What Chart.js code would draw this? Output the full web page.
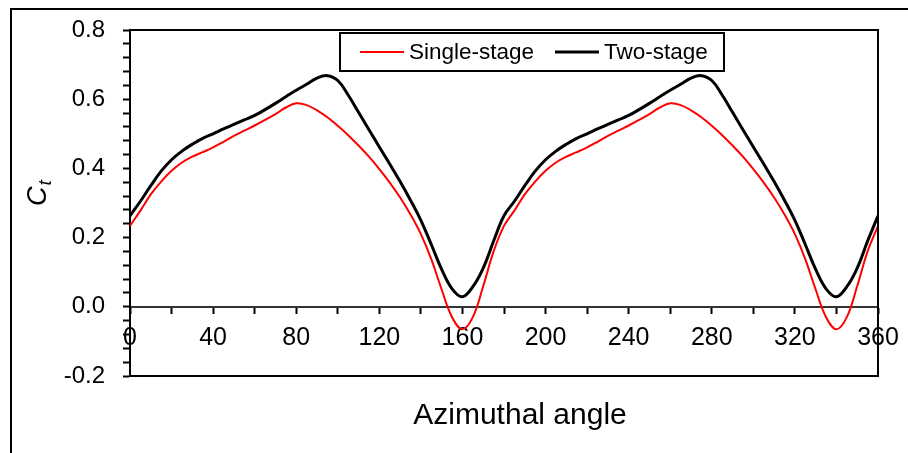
<!DOCTYPE html>
<html>
<head>
<meta charset="utf-8">
<script src="https://cdn.jsdelivr.net/npm/chart.js@4.4.1/dist/chart.umd.min.js"></script>
<style>
  html, body { margin: 0; padding: 0; background: #fff; overflow: hidden; }
  #wrap { width: 908px; height: 453px; position: relative; }
</style>
</head>
<body>
<div id="wrap"><canvas id="c" width="908" height="453"></canvas></div>
<script>
// Azimuthal angle (deg)
const angles = [
  0, 5, 10, 15, 20, 25, 30, 35, 40, 45, 50, 55, 60, 65, 70, 75, 80, 85, 90,
  95, 100, 105, 110, 115, 120, 125, 130, 135, 140, 145, 150, 155, 160, 165, 170, 175, 180,
  185, 190, 195, 200, 205, 210, 215, 220, 225, 230, 235, 240, 245, 250, 255, 260, 265, 270,
  275, 280, 285, 290, 295, 300, 305, 310, 315, 320, 325, 330, 335, 340, 345, 350, 355, 360
];

// Torque coefficient, single-stage rotor
const singleStage = [
  0.234, 0.278, 0.325, 0.362, 0.393, 0.417, 0.434, 0.447, 0.461, 0.477, 0.494, 0.509, 0.524, 0.540, 0.557, 0.576, 0.588, 0.583, 0.568,
  0.548, 0.523, 0.496, 0.466, 0.434, 0.398, 0.359, 0.316, 0.267, 0.210, 0.138, 0.050, -0.030, -0.065, -0.030, 0.060, 0.160, 0.234,
  0.278, 0.325, 0.362, 0.393, 0.417, 0.434, 0.447, 0.461, 0.477, 0.494, 0.509, 0.524, 0.540, 0.557, 0.576, 0.588, 0.583, 0.568,
  0.548, 0.523, 0.496, 0.466, 0.434, 0.398, 0.359, 0.316, 0.267, 0.210, 0.138, 0.050, -0.030, -0.065, -0.030, 0.060, 0.160, 0.234
];

// Torque coefficient, two-stage rotor
const twoStage = [
  0.263, 0.305, 0.350, 0.392, 0.425, 0.450, 0.470, 0.487, 0.500, 0.514, 0.527, 0.540, 0.553, 0.570, 0.588, 0.607, 0.626, 0.643, 0.661,
  0.668, 0.654, 0.612, 0.562, 0.512, 0.462, 0.413, 0.362, 0.308, 0.250, 0.180, 0.108, 0.052, 0.029, 0.058, 0.112, 0.190, 0.263,
  0.305, 0.350, 0.392, 0.425, 0.450, 0.470, 0.487, 0.500, 0.514, 0.527, 0.540, 0.553, 0.570, 0.588, 0.607, 0.626, 0.643, 0.661,
  0.668, 0.654, 0.612, 0.562, 0.512, 0.462, 0.413, 0.362, 0.308, 0.250, 0.180, 0.108, 0.052, 0.029, 0.058, 0.112, 0.190, 0.263
];

// Labelled ticks
const xTickLabels = [0, 40, 80, 120, 160, 200, 240, 280, 320, 360];
const yTickLabels = [-0.2, 0.0, 0.2, 0.4, 0.6, 0.8];

const FONT = '"Liberation Sans", Arial, sans-serif';

const near = (list, v) => list.some(t => Math.abs(t - v) < 1e-6);

// Plot frame, outer border, axis titles and legend box
const decorPlugin = {
  id: 'decor',
  afterDatasetsDraw(chart) {
    const { ctx, chartArea: a } = chart;
    ctx.save();
    ctx.strokeStyle = '#000';
    ctx.lineWidth = 2;
    ctx.beginPath();
    ctx.moveTo(a.left, a.top);
    ctx.lineTo(a.right, a.top);
    ctx.lineTo(a.right, a.bottom);
    ctx.lineTo(a.left, a.bottom);
    ctx.stroke();

    // outer figure border
    ctx.beginPath();
    ctx.moveTo(11, 460);
    ctx.lineTo(11, 9);
    ctx.lineTo(910, 9);
    ctx.stroke();

    // x axis title
    ctx.fillStyle = '#000';
    ctx.font = '30px ' + FONT;
    ctx.textAlign = 'center';
    ctx.textBaseline = 'alphabetic';
    ctx.fillText('Azimuthal angle', 520, 424);

    // y axis title: C with subscript t
    ctx.save();
    ctx.translate(46, 206);
    ctx.rotate(-Math.PI / 2);
    ctx.textAlign = 'left';
    ctx.font = 'italic 27px ' + FONT;
    ctx.fillText('C', 0, 0);
    const cw = ctx.measureText('C').width;
    ctx.font = 'italic 19px ' + FONT;
    ctx.fillText('t', cw + 1, 5);
    ctx.restore();

    // legend
    const lx = 340, ly = 33, lw = 384, lh = 38;
    ctx.fillStyle = '#fff';
    ctx.fillRect(lx, ly, lw, lh);
    ctx.strokeRect(lx, ly, lw, lh);
    const items = [
      { x: 360, ds: chart.data.datasets[0] },
      { x: 555, ds: chart.data.datasets[1] }
    ];
    const my = ly + lh / 2;
    ctx.font = '22.5px ' + FONT;
    ctx.textBaseline = 'middle';
    ctx.textAlign = 'left';
    items.forEach(it => {
      ctx.strokeStyle = it.ds.borderColor;
      ctx.lineWidth = it.ds.borderWidth;
      ctx.beginPath();
      ctx.moveTo(it.x, my);
      ctx.lineTo(it.x + 44, my);
      ctx.stroke();
      ctx.fillStyle = '#000';
      ctx.fillText(it.ds.label, it.x + 49, my + 1);
    });
    ctx.restore();
  }
};

new Chart(document.getElementById('c'), {
  type: 'line',
  data: {
    labels: angles,
    datasets: [
      {
        label: 'Single-stage',
        data: singleStage,
        borderColor: '#ff0000',
        borderWidth: 2,
        pointRadius: 0,
        fill: false,
        tension: 0.4
      },
      {
        label: 'Two-stage',
        data: twoStage,
        borderColor: '#000000',
        borderWidth: 3,
        pointRadius: 0,
        fill: false,
        tension: 0.4
      }
    ]
  },
  options: {
    responsive: false,
    animation: false,
    devicePixelRatio: 1,
    layout: { padding: { left: 0, top: 30, right: 30, bottom: 77 } },
    plugins: {
      legend: { display: false },
      tooltip: { enabled: false }
    },
    scales: {
      x: {
        type: 'linear',
        position: { y: 0 },
        min: 0,
        max: 360,
        grid: {
          drawOnChartArea: false,
          drawTicks: true,
          tickLength: 6,
          tickWidth: 2,
          tickColor: '#000'
        },
        border: { display: true, color: '#333', width: 2 },
        ticks: {
          stepSize: 20,
          autoSkip: false,
          maxRotation: 0,
          padding: 10,
          color: '#000',
          font: { family: FONT, size: 25 },
          callback: v => near(xTickLabels, v) ? String(Math.round(v)) : ''
        },
        afterFit(s) {
          s.paddingLeft = 0; s.paddingRight = 0; s.paddingTop = 0; s.paddingBottom = 0;
        }
      },
      y: {
        type: 'linear',
        position: 'left',
        min: -0.2,
        max: 0.8,
        grid: {
          drawOnChartArea: false,
          drawTicks: true,
          tickLength: 7,
          tickWidth: 2,
          tickColor: '#000'
        },
        border: { display: true, color: '#000', width: 2 },
        ticks: {
          stepSize: 0.04,
          autoSkip: false,
          padding: 18,
          color: '#000',
          font: { family: FONT, size: 24 },
          callback: v => near(yTickLabels, v) ? v.toFixed(1) : ''
        },
        afterFit(s) {
          s.width = 130;
          s.paddingLeft = 0; s.paddingRight = 0; s.paddingTop = 0; s.paddingBottom = 0;
        }
      }
    }
  },
  plugins: [decorPlugin]
});
</script>
</body>
</html>
